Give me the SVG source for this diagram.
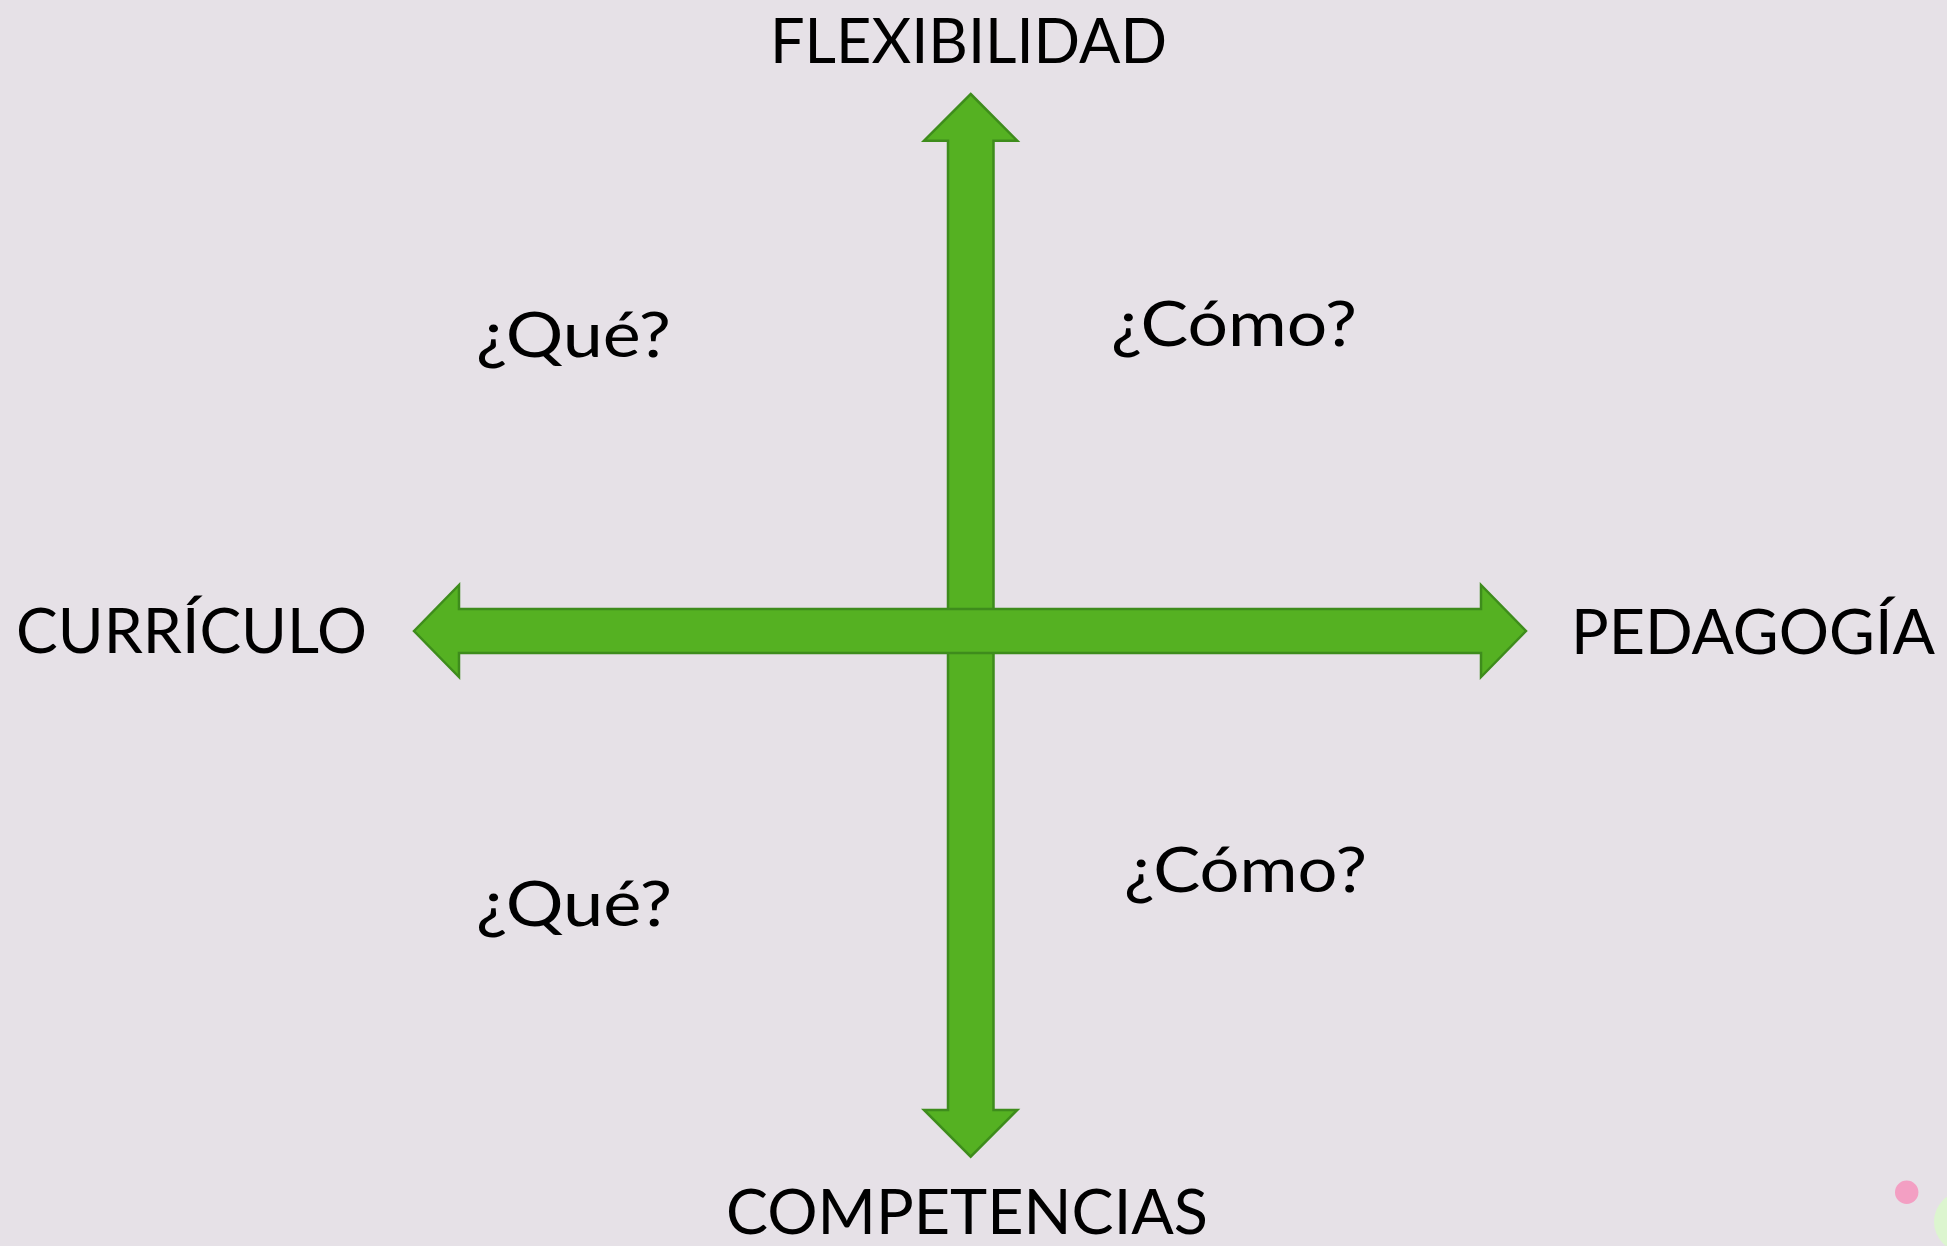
<svg xmlns="http://www.w3.org/2000/svg" width="1947" height="1246" viewBox="0 0 1947 1246">
<style>
.lbl{font-family:Lato,"Open Sans","Liberation Sans",sans-serif;font-size:61px;fill:#000}
.arrow{fill:#55b122;stroke:#3e8c1c;stroke-width:2.5;stroke-linejoin:miter}
</style>
<rect width="1947" height="1246" fill="#e6e1e7"/>
<g id="connectors">
<polygon id="arrow-vertical" class="arrow" points="970.7,94 1017.3,140.7 993.5,140.7 993.5,1110 1017.3,1110 970.7,1156.7 924,1110 948,1110 948,140.7 924,140.7"/>
<polygon id="arrow-horizontal" class="arrow" points="414,631 459,585 459,609 1481,609 1481,585 1526,631 1481,677 1481,653 459,653 459,677"/>
</g>
<g id="node-flexibilidad"><text class="lbl" x="770" y="63" textLength="397" lengthAdjust="spacingAndGlyphs">FLEXIBILIDAD</text></g>
<g id="node-competencias"><text class="lbl" x="726" y="1234" textLength="482" lengthAdjust="spacingAndGlyphs">COMPETENCIAS</text></g>
<g id="node-curriculo"><text class="lbl" x="16" y="653" textLength="351" lengthAdjust="spacingAndGlyphs">CURRÍCULO</text></g>
<g id="node-pedagogia"><text class="lbl" x="1571" y="654" textLength="364" lengthAdjust="spacingAndGlyphs">PEDAGOGÍA</text></g>
<g id="node-que-top"><text class="lbl" x="476" y="357" textLength="195" lengthAdjust="spacingAndGlyphs">¿Qué?</text></g>
<g id="node-como-top"><text class="lbl" x="1111" y="346" textLength="246" lengthAdjust="spacingAndGlyphs">¿Cómo?</text></g>
<g id="node-que-bottom"><text class="lbl" x="476" y="926" textLength="196" lengthAdjust="spacingAndGlyphs">¿Qué?</text></g>
<g id="node-como-bottom"><text class="lbl" x="1124" y="892" textLength="243" lengthAdjust="spacingAndGlyphs">¿Cómo?</text></g>
<circle cx="1906.7" cy="1192.3" r="11.7" fill="#f39fc3"/>
<circle cx="1964.5" cy="1221.7" r="30.5" fill="#dcf5cf"/>
</svg>
